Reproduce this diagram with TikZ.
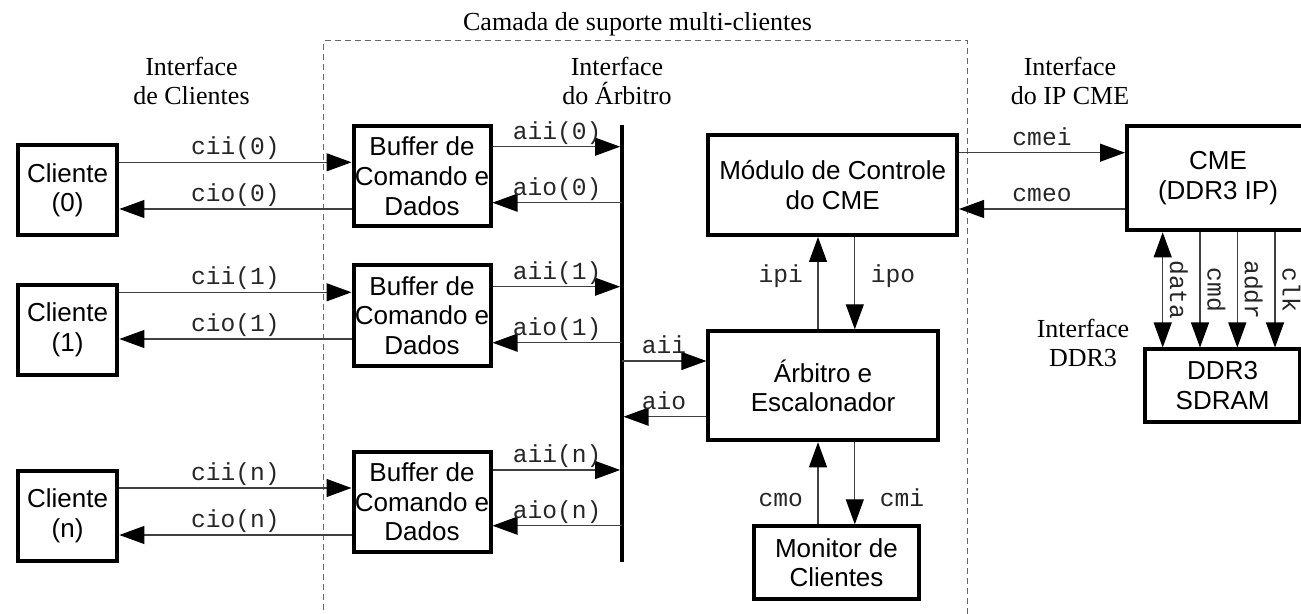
\documentclass[tikz,border=0pt]{standalone}
\usepackage{fontspec}
\setmainfont{Liberation Serif}
\setsansfont{Liberation Sans}
\setmonofont{Liberation Mono}
\usetikzlibrary{arrows.meta}

\newcommand\blkfont{\sffamily\fontsize{13}{14.8}\selectfont}
\newcommand\hdrfont{\rmfamily\fontsize{13}{14.5}\selectfont}
\newcommand\sigfont{\ttfamily\fontsize{12.3}{14}\selectfont}

\tikzset{
  blk/.style={draw, line width=2pt, inner sep=0pt, font=\blkfont, align=center},
  % multi-line headings: the base anchor sits on the last line
  hdr/.style={font=\hdrfont, align=center, inner sep=0pt, anchor=base},
  tip/.style={-{Triangle[length=12.5pt,width=9pt,color=black]}},
  sig/.style={draw=black!75, line width=0.55pt, tip},
  bisig/.style={draw=black!75, line width=0.55pt,
    {Triangle[length=12.5pt,width=9pt,color=black]}-{Triangle[length=12.5pt,width=9pt,color=black]}},
  lbl/.style={font=\sigfont, text=black!85, inner sep=0pt, anchor=base, yshift=3.75pt},
  vlbl/.style={font=\sigfont, text=black!85, inner sep=0pt},
  bus/.style={line width=1.7pt},
  frame/.style={draw=black!60, line width=0.5pt, dash pattern=on 3pt off 2pt}
}

\begin{document}
\begin{tikzpicture}[x=0.5pt,y=-0.5pt]
\useasboundingbox (0,0) rectangle (1301,614);
\clip (0,0) rectangle (1301,614);

% support layer frame
\draw[frame] (323.7,620) |- (967.5,41) -- (967.5,620);
\node[hdr] (layer) at (637.5,31) {Camada de suporte multi-clientes};

% interface headings
\node[hdr] (hcli) at (191.5,105) {Interface\\de Clientes};
\node[hdr] (harb) at (617,105) {Interface\\do Árbitro};
\node[hdr] (hcme) at (1070,105) {Interface\\do IP CME};
\node[hdr] (hddr) at (1083,367) {Interface\\DDR3};

% clients
\node[blk, minimum width=49.8pt, minimum height=45pt] (C0) at (67.6,190.3) {Cliente\\(0)};
\node[blk, minimum width=49.8pt, minimum height=45pt] (C1) at (67.6,330) {Cliente\\(1)};
\node[blk, minimum width=49.8pt, minimum height=45pt] (Cn) at (67.6,516) {Cliente\\(n)};

% command/data buffers
\node[blk, minimum width=68.5pt, minimum height=50pt] (B0) at (422,176.3) {Buffer de\\Comando e\\Dados};
\node[blk, minimum width=68.5pt, minimum height=50.2pt] (B1) at (422,315.5) {Buffer de\\Comando e\\Dados};
\node[blk, minimum width=68.5pt, minimum height=50pt] (Bn) at (422,502) {Buffer de\\Comando e\\Dados};

% core blocks
\node[blk, minimum width=124.3pt, minimum height=50pt] (Mod) at (832.7,185) {Módulo de Controle\\do CME};
\node[blk, minimum width=114.7pt, minimum height=54.5pt] (Arb) at (823.1,385.8) {Árbitro e\\Escalonador};
\node[blk, minimum width=82.5pt, minimum height=36.35pt] (Mon) at (836.5,562.7) {Monitor de\\Clientes};
\node[blk, minimum width=91pt, minimum height=52.15pt] (CME) at (1218,178.2) {CME\\(DDR3 IP)};
\node[blk, minimum width=77.35pt, minimum height=36.1pt] (DDR) at (1222.6,385.6) {DDR3\\SDRAM};

% arbiter bus
\coordinate (busT) at (621.8,125);
\coordinate (busB) at (621.8,561.7);
\draw[bus] (busT) -- (busB);

% signal levels
\coordinate (yci0) at (0,162.3);  \coordinate (yco0) at (0,209);
\coordinate (yai0) at (0,146.7);  \coordinate (yao0) at (0,202.7);
\coordinate (yci1) at (0,292.3);  \coordinate (yco1) at (0,339);
\coordinate (yai1) at (0,286.7);  \coordinate (yao1) at (0,342.7);
\coordinate (ycin) at (0,488);    \coordinate (ycon) at (0,535);
\coordinate (yain) at (0,470);    \coordinate (yaon) at (0,525.7);
\coordinate (yaii) at (0,361);    \coordinate (yaio) at (0,416.7);
\coordinate (ycmei) at (0,152.7); \coordinate (ycmeo) at (0,209);
\coordinate (xup) at (818,0);     \coordinate (xdn) at (854.8,0);
\coordinate (xdata) at (1162.7,0); \coordinate (xcmd) at (1200,0);
\coordinate (xaddr) at (1237.3,0); \coordinate (xclk) at (1275,0);

% client interface
\draw[sig] (C0.east |- yci0) -- (B0.west |- yci0) node[lbl, midway] {cii(0)};
\draw[sig] (B0.west |- yco0) -- (C0.east |- yco0) node[lbl, midway] {cio(0)};
\draw[sig] (C1.east |- yci1) -- (B1.west |- yci1) node[lbl, midway] {cii(1)};
\draw[sig] (B1.west |- yco1) -- (C1.east |- yco1) node[lbl, midway] {cio(1)};
\draw[sig] (Cn.east |- ycin) -- (Bn.west |- ycin) node[lbl, midway] {cii(n)};
\draw[sig] (Bn.west |- ycon) -- (Cn.east |- ycon) node[lbl, midway] {cio(n)};

% arbiter interface
\draw[sig, shorten >=0.85pt] (B0.east |- yai0) -- (busT |- yai0) node[lbl, midway] {aii(0)};
\draw[sig] (busT |- yao0) -- (B0.east |- yao0) node[lbl, midway] {aio(0)};
\draw[sig, shorten >=0.85pt] (B1.east |- yai1) -- (busT |- yai1) node[lbl, midway] {aii(1)};
\draw[sig] (busT |- yao1) -- (B1.east |- yao1) node[lbl, midway] {aio(1)};
\draw[sig, shorten >=0.85pt] (Bn.east |- yain) -- (busT |- yain) node[lbl, midway] {aii(n)};
\draw[sig] (busT |- yaon) -- (Bn.east |- yaon) node[lbl, midway] {aio(n)};
\draw[sig] (busT |- yaii) -- (Arb.west |- yaii) node[lbl, midway] {aii};
\draw[sig, shorten >=0.85pt] (Arb.west |- yaio) -- (busT |- yaio) node[lbl, midway] {aio};

% control module, arbiter and monitor
\draw[sig] (Arb.north -| xup) -- (Mod.south -| xup);
\draw[sig] (Mod.south -| xdn) -- (Arb.north -| xdn);
\draw[sig] (Mon.north -| xup) -- (Arb.south -| xup);
\draw[sig] (Arb.south -| xdn) -- (Mon.north -| xdn);
\node[vlbl, anchor=base east] (lipi) at (803.4,283) {ipi};
\node[vlbl, anchor=base west] (lipo) at (870.5,283) {ipo};
\node[vlbl, anchor=base east] (lcmo) at (803.4,507) {cmo};
\node[vlbl, anchor=base west] (lcmi) at (879.4,507) {cmi};

% CME IP interface
\draw[sig] (Mod.east |- ycmei) -- (CME.west |- ycmei) node[lbl, midway] {cmei};
\draw[sig] (CME.west |- ycmeo) -- (Mod.east |- ycmeo) node[lbl, midway] {cmeo};

% DDR3 interface
\draw[bisig] (CME.south -| xdata) -- (DDR.north -| xdata);
\draw[sig] (CME.south -| xcmd) -- (DDR.north -| xcmd);
\draw[sig] (CME.south -| xaddr) -- (DDR.north -| xaddr);
\draw[sig] (CME.south -| xclk) -- (DDR.north -| xclk);
\node[vlbl, rotate=-90, anchor=base] (ldata) at (1170.2,290) {data};
\node[vlbl, rotate=-90, anchor=base] (lcmd) at (1207.5,290) {cmd};
\node[vlbl, rotate=-90, anchor=base] (laddr) at (1244.8,290) {addr};
\node[vlbl, rotate=-90, anchor=base] (lclk) at (1282.5,290) {clk};
\end{tikzpicture}
\end{document}
